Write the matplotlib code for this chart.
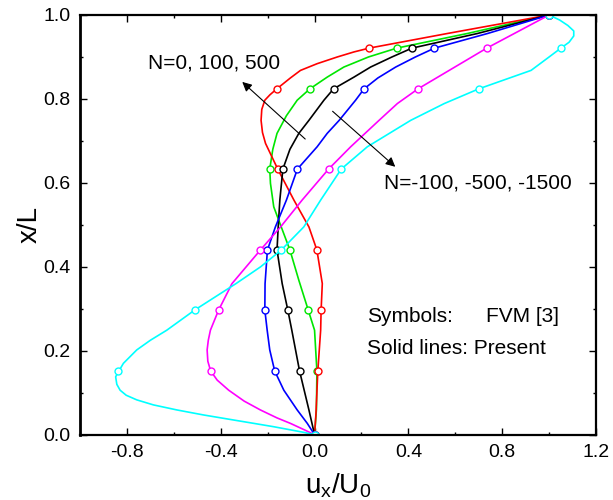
import matplotlib
matplotlib.use("Agg")
import matplotlib.pyplot as plt
from matplotlib.ticker import MultipleLocator, FormatStrFormatter

plt.rcParams['font.family'] = ['Liberation Sans', 'DejaVu Sans']
plt.rcParams['mathtext.fontset'] = 'custom'
plt.rcParams['mathtext.rm'] = 'Liberation Sans'
plt.rcParams['mathtext.it'] = 'Liberation Sans'

# symbol (FVM) data: common heights x/L
y_sym = [0.0, 0.152, 0.297, 0.44, 0.633, 0.824, 0.921, 1.0]
red_sym = [0.0, 0.014, 0.026, 0.010, -0.157, -0.161, 0.232, 1.0]
green_sym = [0.0, 0.010, -0.027, -0.105, -0.191, -0.020, 0.350, 1.0]
black_sym = [0.0, -0.064, -0.114, -0.160, -0.135, 0.081, 0.415, 1.0]
blue_sym = [0.0, -0.170, -0.212, -0.201, -0.073, 0.211, 0.511, 1.0]
magenta_sym = [0.0, -0.443, -0.409, -0.231, 0.060, 0.441, 0.734, 1.0]
cyan_sym = [0.0, -0.836, -0.511, -0.142, 0.114, 0.700, 1.050, 1.0]

# solid lines (present)
red_y = [0.0, 0.05, 0.152, 0.249, 0.297, 0.36, 0.44, 0.495, 0.559, 0.633, 0.694, 0.72,
         0.749, 0.775, 0.797, 0.81, 0.824, 0.85, 0.868, 0.884, 0.9, 0.912, 0.921, 0.956, 1.0]
red_x = [0.0, 0.006, 0.014, 0.026, 0.028, 0.033, 0.010, -0.024, -0.088, -0.157, -0.209, -0.222,
         -0.228, -0.225, -0.212, -0.190, -0.161, -0.103, -0.06, 0.011, 0.097, 0.168, 0.232, 0.567, 1.0]

green_y = [0.0, 0.06, 0.152, 0.249, 0.297, 0.368, 0.44, 0.495, 0.543, 0.599, 0.633, 0.68,
           0.718, 0.76, 0.797, 0.824, 0.852, 0.876, 0.9, 0.921, 0.956, 1.0]
green_x = [0.0, 0.008, 0.010, 0.0, -0.027, -0.067, -0.105, -0.142, -0.174, -0.188, -0.191, -0.178,
           -0.160, -0.120, -0.074, -0.020, 0.054, 0.125, 0.230, 0.350, 0.652, 1.0]

black_y = [0.0, 0.059, 0.152, 0.249, 0.297, 0.36, 0.44, 0.495, 0.559, 0.633, 0.68, 0.718,
           0.749, 0.797, 0.824, 0.852, 0.876, 0.9, 0.921, 0.956, 1.0]
black_x = [0.0, -0.024, -0.064, -0.097, -0.114, -0.138, -0.160, -0.155, -0.148, -0.135, -0.105, -0.067,
           -0.024, 0.040, 0.081, 0.168, 0.239, 0.330, 0.415, 0.695, 1.0]

blue_y = [0.0, 0.027, 0.059, 0.106, 0.152, 0.202, 0.249, 0.297, 0.36, 0.44, 0.495, 0.559,
          0.633, 0.686, 0.718, 0.749, 0.797, 0.824, 0.85, 0.876, 0.9, 0.921, 0.956, 1.0]
blue_x = [0.0, -0.031, -0.074, -0.131, -0.170, -0.191, -0.202, -0.212, -0.211, -0.201, -0.167, -0.120,
          -0.073, 0.011, 0.054, 0.105, 0.175, 0.211, 0.270, 0.346, 0.430, 0.511, 0.738, 1.0]

magenta_y = [0.0, 0.012, 0.027, 0.04, 0.059, 0.08, 0.106, 0.13, 0.152, 0.175, 0.202, 0.225,
             0.249, 0.297, 0.36, 0.44, 0.495, 0.559, 0.633, 0.686, 0.749, 0.789, 0.824, 0.921, 1.0]
magenta_x = [0.0, -0.045, -0.103, -0.160, -0.231, -0.300, -0.366, -0.415, -0.443, -0.455, -0.458, -0.453,
             -0.444, -0.409, -0.352, -0.231, -0.145, -0.053, 0.060, 0.154, 0.275, 0.353, 0.441, 0.734, 1.0]

cyan_y = [0.0, 0.0056, 0.019, 0.027, 0.035, 0.047, 0.059, 0.071, 0.083, 0.094, 0.106, 0.12,
          0.138, 0.150, 0.17, 0.202, 0.225, 0.249, 0.297, 0.36, 0.40, 0.44, 0.495, 0.559,
          0.633, 0.686, 0.749, 0.789, 0.824, 0.868, 0.90, 0.921, 0.935, 0.95, 0.962, 0.975,
          0.988, 1.0]
cyan_x = [0.0, -0.046, -0.174, -0.259, -0.345, -0.473, -0.587, -0.687, -0.758, -0.803, -0.829, -0.843,
          -0.848, -0.836, -0.815, -0.758, -0.700, -0.630, -0.511, -0.335, -0.230, -0.142, -0.046, 0.026,
          0.114, 0.225, 0.410, 0.553, 0.700, 0.923, 1.000, 1.050, 1.085, 1.105, 1.105, 1.080,
          1.045, 1.0]

series = [
    ("#00e600", green_x, green_y, green_sym),
    ("red", red_x, red_y, red_sym),
    ("black", black_x, black_y, black_sym),
    ("blue", blue_x, blue_y, blue_sym),
    ("magenta", magenta_x, magenta_y, magenta_sym),
    ("cyan", cyan_x, cyan_y, cyan_sym),
]

fig = plt.figure(figsize=(6.13, 5.0), dpi=100)
ax = fig.add_axes([0.1305, 0.1306, 0.8418, 0.8394])

for color, lx, ly, sx in series:
    ax.plot(lx, ly, color=color, lw=1.2, solid_joinstyle='round')
    ax.plot(sx, y_sym, 'o', color=color, mfc='white', mec=color, ms=5, mew=1.0)

ax.set_xlim(-1.0, 1.2)
ax.set_ylim(0.0, 1.0)
ax.xaxis.set_major_locator(MultipleLocator(0.4))
ax.xaxis.set_minor_locator(MultipleLocator(0.2))
ax.yaxis.set_major_locator(MultipleLocator(0.2))
ax.yaxis.set_minor_locator(MultipleLocator(0.1))
ax.xaxis.set_major_formatter(FormatStrFormatter('%.1f'))
ax.yaxis.set_major_formatter(FormatStrFormatter('%.1f'))
ax.tick_params(which='both', direction='in', top=True, right=True, width=1.0)
ax.tick_params(which='major', length=5, labelsize=14, pad=7)
ax.tick_params(which='minor', length=2.5)
for side in ['left', 'bottom', 'top', 'right']:
    ax.spines[side].set_linewidth(1.6)
ax.spines['left'].set_linewidth(2.0)

ax.set_xlabel(r'$\mathregular{u_x/U_0}$', fontsize=20, labelpad=7)
ax.set_ylabel('x/L', fontsize=20, labelpad=0)

arrow = dict(arrowstyle='-|>', color='black', lw=0.8, mutation_scale=14)
ax.annotate('', xy=(-0.317, 0.845), xytext=(-0.031, 0.70), arrowprops=arrow)
ax.annotate('', xy=(0.353, 0.634), xytext=(0.068, 0.775), arrowprops=arrow)

ax.text(-0.708, 0.872, 'N=0, 100, 500', fontsize=15, va='baseline')
ax.text(0.296, 0.587, 'N=-100, -500, -1500', fontsize=15, va='baseline')
ax.text(0.222, 0.269, 'Symbols:', fontsize=15, va='baseline')
ax.text(0.732, 0.269, 'FVM [3]', fontsize=15, va='baseline')
ax.text(0.222, 0.192, 'Solid lines: Present', fontsize=15, va='baseline')

fig.savefig('out.png', dpi=100)
